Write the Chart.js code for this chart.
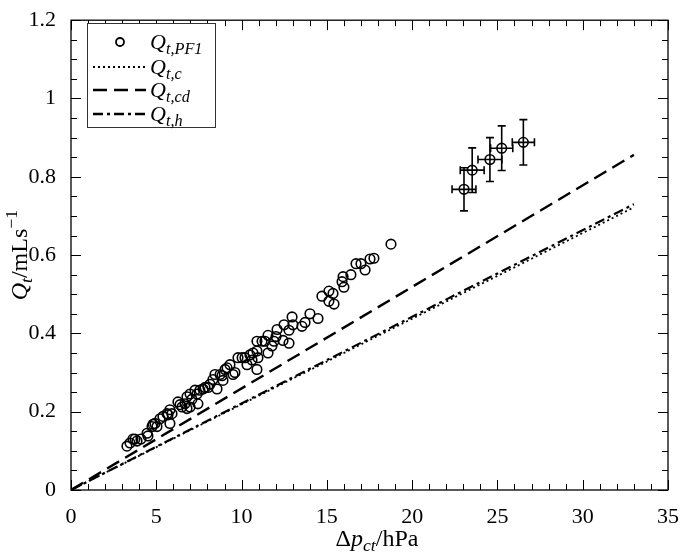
<!DOCTYPE html>
<html>
<head>
<meta charset="utf-8">
<script src="https://cdn.jsdelivr.net/npm/chart.js@4.4.0/dist/chart.umd.min.js"></script>
<style>
html, body { margin: 0; padding: 0; background: #fff; }
</style>
</head>
<body>
<canvas id="grafico" width="685" height="554"></canvas>
<script>
// Dati
const pf1X = [3.28, 3.46, 3.63, 3.75, 3.87, 4.10, 4.46, 4.51, 4.75, 4.81, 4.92, 5.04, 5.22, 5.39, 5.63, 5.69,
  5.80, 5.92, 5.80, 6.27, 6.39, 6.51, 6.68, 6.80, 6.98, 6.80, 6.98, 7.09, 7.27, 7.39, 7.44, 7.56, 7.74, 7.86,
  8.03, 8.15, 8.32, 8.44, 8.56, 8.74, 8.85, 8.91, 9.03, 9.15, 9.32, 9.50, 9.61, 9.79, 10.03, 10.20, 10.32,
  10.49, 10.67, 10.90, 10.61, 10.96, 10.90, 10.90, 11.20, 11.37, 11.55, 11.78, 11.55, 11.90, 12.02, 12.08,
  12.43, 12.49, 12.78, 12.78, 12.96, 13.01, 13.54, 13.72, 14.01, 14.48, 14.71, 15.12, 15.36, 15.12, 15.42,
  15.95, 15.89, 16.00, 16.41, 16.71, 17.00, 17.24, 17.53, 17.76, 18.76];
const pf1Y = [0.112, 0.120, 0.130, 0.130, 0.125, 0.130, 0.145, 0.138, 0.162, 0.168, 0.170, 0.162, 0.182, 0.188,
  0.195, 0.192, 0.205, 0.195, 0.170, 0.225, 0.218, 0.212, 0.220, 0.208, 0.212, 0.238, 0.245, 0.232, 0.255,
  0.245, 0.220, 0.255, 0.258, 0.262, 0.262, 0.270, 0.282, 0.295, 0.258, 0.295, 0.292, 0.280, 0.308, 0.312,
  0.320, 0.295, 0.300, 0.338, 0.338, 0.338, 0.320, 0.345, 0.350, 0.355, 0.332, 0.338, 0.308, 0.380, 0.380,
  0.380, 0.350, 0.368, 0.395, 0.380, 0.392, 0.410, 0.382, 0.422, 0.408, 0.375, 0.442, 0.422, 0.418, 0.428,
  0.450, 0.438, 0.495, 0.508, 0.502, 0.482, 0.475, 0.545, 0.532, 0.518, 0.550, 0.578, 0.578, 0.562, 0.590,
  0.592, 0.628];

// punti con barre d'errore
const errX = [23.04, 23.52, 24.56, 25.25, 26.52];
const errY = [0.768, 0.817, 0.844, 0.873, 0.888];
const errDx = [0.7, 0.7, 0.7, 0.65, 0.65];
const errDy = [0.055, 0.057, 0.056, 0.057, 0.058];

// rette dei modelli
const lineaX = [0, 33];
const qtC = [0, 0.722];
const qtCd = [0, 0.856];
const qtH = [0, 0.730];

const xTicks = [0, 5, 10, 15, 20, 25, 30, 35];
const yTicks = [0, 0.2, 0.4, 0.6, 0.8, 1, 1.2];

const FONT = '"Liberation Serif", "Times New Roman", serif';

function coppie(xs, ys) {
    return xs.map((v, i) => ({ x: v, y: ys[i] }));
}

// scrive testo con pedici/apici: parti = [testo, corsivo, livello]
function scriviFormula(ctx, parti, x0, y0, size, allinea) {
    const font = p => (p[1] ? 'italic ' : '') + (p[2] ? size * 0.74 : size) + 'px ' + FONT;
    let w = 0;
    parti.forEach(p => { ctx.font = font(p); w += ctx.measureText(p[0]).width; });
    let xx = allinea === 'center' ? x0 - w / 2 : x0;
    ctx.textAlign = 'left';
    ctx.textBaseline = 'alphabetic';
    parti.forEach(p => {
        ctx.font = font(p);
        const dy = p[2] === -1 ? size * 0.22 : (p[2] === 1 ? -size * 0.42 : 0);
        ctx.fillText(p[0], xx, y0 + dy);
        xx += ctx.measureText(p[0]).width;
    });
}

const extraPlugin = {
    id: 'extra',
    afterDatasetsDraw(chart) {
        const { ctx, scales: { x, y } } = chart;
        ctx.save();
        ctx.strokeStyle = '#000';
        ctx.lineWidth = 1.6;
        errX.forEach((v, i) => {
            const px = x.getPixelForValue(v);
            const py = y.getPixelForValue(errY[i]);
            const x1 = x.getPixelForValue(v - errDx[i]);
            const x2 = x.getPixelForValue(v + errDx[i]);
            const y1 = y.getPixelForValue(errY[i] - errDy[i]);
            const y2 = y.getPixelForValue(errY[i] + errDy[i]);
            ctx.beginPath();
            ctx.moveTo(x1, py); ctx.lineTo(x2, py);
            ctx.moveTo(x1, py - 4); ctx.lineTo(x1, py + 4);
            ctx.moveTo(x2, py - 4); ctx.lineTo(x2, py + 4);
            ctx.moveTo(px, y1); ctx.lineTo(px, y2);
            ctx.moveTo(px - 4, y1); ctx.lineTo(px + 4, y1);
            ctx.moveTo(px - 4, y2); ctx.lineTo(px + 4, y2);
            ctx.stroke();
        });
        ctx.restore();
    },
    afterDraw(chart) {
        const { ctx, chartArea: a, scales: { x, y } } = chart;
        ctx.save();
        ctx.strokeStyle = '#000';
        ctx.fillStyle = '#000';
        ctx.lineWidth = 1.3;
        ctx.strokeRect(a.left, a.top, a.right - a.left, a.bottom - a.top);

        // tacche interne, maggiori e minori
        ctx.lineWidth = 1;
        ctx.beginPath();
        for (let v = 0; v <= 35; v++) {
            const px = Math.round(x.getPixelForValue(v)) + 0.5;
            const len = v % 5 === 0 ? 10 : 6;
            ctx.moveTo(px, a.bottom); ctx.lineTo(px, a.bottom - len);
            ctx.moveTo(px, a.top); ctx.lineTo(px, a.top + len);
        }
        for (let i = 0; i <= 24; i++) {
            const py = Math.round(y.getPixelForValue(i * 0.05)) + 0.5;
            const len = i % 4 === 0 ? 10 : 6;
            ctx.moveTo(a.left, py); ctx.lineTo(a.left + len, py);
            ctx.moveTo(a.right, py); ctx.lineTo(a.right - len, py);
        }
        ctx.stroke();

        // titoli degli assi
        scriviFormula(ctx, [['Δ', false, 0], ['p', true, 0], ['ct', true, -1], ['/hPa', false, 0]],
            377, 546, 24, 'center');
        ctx.save();
        ctx.translate(27, (a.top + a.bottom) / 2);
        ctx.rotate(-Math.PI / 2);
        scriviFormula(ctx, [['Q', true, 0], ['t', true, -1], ['/mLs', false, 0], ['−1', false, 1]],
            0, 0, 24, 'center');
        ctx.restore();

        // legenda
        const lx = 87, ly = 23, lw = 128, lh = 104;
        ctx.fillStyle = '#fff';
        ctx.fillRect(lx, ly, lw, lh);
        ctx.lineWidth = 1;
        ctx.strokeStyle = '#333';
        ctx.strokeRect(lx + 0.5, ly + 0.5, lw, lh);
        ctx.fillStyle = '#000';
        ctx.strokeStyle = '#000';
        const voci = [
            { tipo: 'punto', sub: 't,PF1', y: 42 },
            { tipo: 'linea', dash: [2, 3], w: 1.8, sub: 't,c', y: 67 },
            { tipo: 'linea', dash: [14, 7], w: 2.4, sub: 't,cd', y: 90 },
            { tipo: 'linea', dash: [10, 4, 3, 4], w: 2.4, sub: 't,h', y: 114 }
        ];
        voci.forEach(v => {
            if (v.tipo === 'punto') {
                ctx.lineWidth = 1.8;
                ctx.beginPath();
                ctx.arc(120, v.y, 4, 0, Math.PI * 2);
                ctx.stroke();
            } else {
                ctx.lineWidth = v.w;
                ctx.setLineDash(v.dash);
                ctx.beginPath();
                ctx.moveTo(93, v.y); ctx.lineTo(146, v.y);
                ctx.stroke();
                ctx.setLineDash([]);
            }
            scriviFormula(ctx, [['Q', true, 0], [v.sub, true, -1]], 150, v.y + 7, 22, 'left');
        });
        ctx.restore();
    }
};

function creaGrafico() {
    const ctx = document.getElementById('grafico').getContext('2d');
    new Chart(ctx, {
        type: 'scatter',
        data: {
            datasets: [
                {
                    label: 'Qt,c',
                    type: 'line',
                    data: coppie(lineaX, qtC),
                    borderColor: '#000',
                    borderWidth: 1.8,
                    borderDash: [2, 3],
                    pointRadius: 0,
                    fill: false
                },
                {
                    label: 'Qt,h',
                    type: 'line',
                    data: coppie(lineaX, qtH),
                    borderColor: '#000',
                    borderWidth: 2.2,
                    borderDash: [10, 4, 3, 4],
                    pointRadius: 0,
                    fill: false
                },
                {
                    label: 'Qt,cd',
                    type: 'line',
                    data: coppie(lineaX, qtCd),
                    borderColor: '#000',
                    borderWidth: 2.4,
                    borderDash: [14, 7],
                    pointRadius: 0,
                    fill: false
                },
                {
                    label: 'Qt,PF1',
                    data: coppie(pf1X, pf1Y),
                    borderColor: '#000',
                    backgroundColor: 'rgba(0,0,0,0)',
                    borderWidth: 1.6,
                    pointRadius: 4.8
                },
                {
                    label: 'Qt,PF1 err',
                    data: coppie(errX, errY),
                    borderColor: '#000',
                    backgroundColor: 'rgba(0,0,0,0)',
                    borderWidth: 1.6,
                    pointRadius: 4.8
                }
            ]
        },
        options: {
            responsive: false,
            animation: false,
            devicePixelRatio: 1,
            layout: { padding: { left: 0, right: 17, top: 10, bottom: 0 } },
            plugins: {
                legend: { display: false },
                tooltip: { enabled: false }
            },
            scales: {
                x: {
                    type: 'linear',
                    min: 0,
                    max: 35,
                    afterFit: s => { s.height = 64; },
                    afterBuildTicks: s => { s.ticks = xTicks.map(v => ({ value: v })); },
                    grid: { display: false },
                    border: { display: false },
                    ticks: {
                        color: '#000',
                        padding: 6,
                        maxRotation: 0,
                        font: { family: FONT, size: 22 },
                        callback: v => String(v)
                    }
                },
                y: {
                    type: 'linear',
                    min: 0,
                    max: 1.2,
                    afterFit: s => { s.width = 71; },
                    afterBuildTicks: s => { s.ticks = yTicks.map(v => ({ value: v })); },
                    grid: { display: false },
                    border: { display: false },
                    ticks: {
                        color: '#000',
                        padding: 7,
                        font: { family: FONT, size: 22 },
                        callback: v => String(Math.round(v * 10) / 10)
                    }
                }
            }
        },
        plugins: [extraPlugin]
    });
}

document.addEventListener('DOMContentLoaded', () => {
    creaGrafico();
});
</script>
</body>
</html>
